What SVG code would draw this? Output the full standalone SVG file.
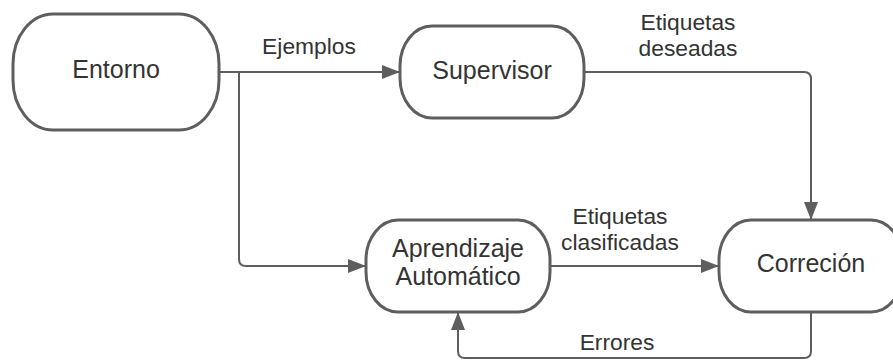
<svg xmlns="http://www.w3.org/2000/svg" width="893" height="360" viewBox="0 0 893 360">
<defs>
<style>
.node{fill:#ffffff;stroke:#5e5e5e;stroke-width:3}
.conn{fill:none;stroke:#5e5e5e;stroke-width:2}
.nt{font-family:"Liberation Sans",Arial,sans-serif;font-size:25px;fill:#333333;text-anchor:middle}
.lt{font-family:"Liberation Sans",Arial,sans-serif;font-size:22.8px;fill:#333333;text-anchor:middle}
</style>
<marker id="arr" viewBox="0 0 18 14" refX="18" refY="7" markerWidth="18" markerHeight="14" markerUnits="userSpaceOnUse" orient="auto">
<path d="M0,0 L18,7 L0,14 z" fill="#5e5e5e"/>
</marker>
</defs>
<rect width="893" height="360" fill="#ffffff"/>
<g id="connectors">
<path class="conn" d="M219,72 H400" marker-end="url(#arr)"/>
<path class="conn" d="M239,72 V259 Q239,266 246,266 H366" marker-end="url(#arr)"/>
<path class="conn" d="M584,72 H804 Q811,72 811,79 V220" marker-end="url(#arr)"/>
<path class="conn" d="M550,266 H719" marker-end="url(#arr)"/>
<path class="conn" d="M811,312 V351 Q811,358 804,358 H465 Q458,358 458,351 V312" marker-end="url(#arr)"/>
<text class="lt" x="309" y="54">Ejemplos</text>
<text class="lt" x="688" y="29.5">Etiquetas</text>
<text class="lt" x="688" y="56">deseadas</text>
<text class="lt" x="620" y="224">Etiquetas</text>
<text class="lt" x="620" y="250">clasificadas</text>
<text class="lt" x="617" y="350">Errores</text>
</g>
<g id="entorno">
<rect class="node" x="13" y="14" width="206" height="116" rx="40" ry="50"/>
<text class="nt" x="116" y="77.5">Entorno</text>
</g>
<g id="supervisor">
<rect class="node" x="400" y="26" width="184" height="92" rx="32" ry="40"/>
<text class="nt" x="492" y="79">Supervisor</text>
</g>
<g id="aprendizaje">
<rect class="node" x="366" y="220" width="184" height="92" rx="32" ry="40"/>
<text class="nt" x="458" y="257">Aprendizaje</text>
<text class="nt" x="458" y="285">Automático</text>
</g>
<g id="correcion">
<rect class="node" x="719" y="220" width="184" height="92" rx="32" ry="40"/>
<text class="nt" x="811" y="272">Correción</text>
</g>
</svg>
